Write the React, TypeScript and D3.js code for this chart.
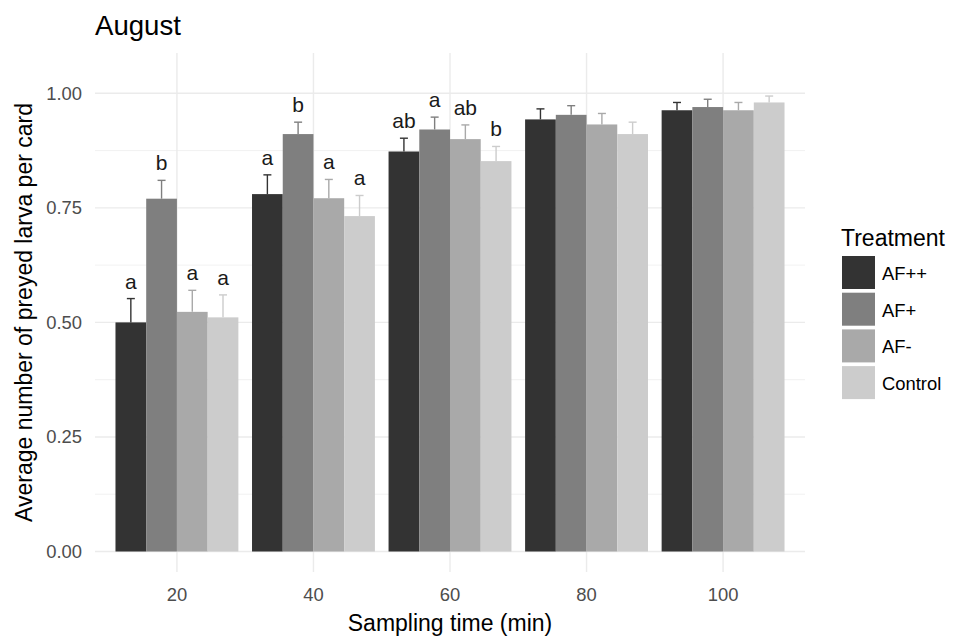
import React from "react";
import * as d3 from "d3";

const times = ["20", "40", "60", "80", "100"];
const treatments = ["AF++", "AF+", "AF-", "Control"];
const colors = ["#333333", "#7f7f7f", "#a9a9a9", "#cccccc"];
// means per treatment across sampling times
const meanAFpp = [0.5, 0.78, 0.873, 0.943, 0.963];
const meanAFp = [0.77, 0.911, 0.921, 0.953, 0.97];
const meanAFm = [0.523, 0.771, 0.9, 0.932, 0.963];
const meanCtrl = [0.511, 0.732, 0.852, 0.911, 0.98];
// mean + SE (upper whisker)
const upperAFpp = [0.552, 0.822, 0.902, 0.966, 0.98];
const upperAFp = [0.81, 0.937, 0.948, 0.973, 0.987];
const upperAFm = [0.57, 0.812, 0.931, 0.956, 0.98];
const upperCtrl = [0.56, 0.777, 0.884, 0.937, 0.994];
const lettersAFpp = ["a", "a", "ab", "", ""];
const lettersAFp = ["b", "b", "a", "", ""];
const lettersAFm = ["a", "a", "ab", "", ""];
const lettersCtrl = ["a", "a", "b", "", ""];
const yTicks = [0, 0.25, 0.5, 0.75, 1.0];
const yMinor = [0.125, 0.375, 0.625, 0.875];

const means = [meanAFpp, meanAFp, meanAFm, meanCtrl];
const uppers = [upperAFpp, upperAFp, upperAFm, upperCtrl];
const letters = [lettersAFpp, lettersAFp, lettersAFm, lettersCtrl];

export default function App() {
  const W = 953, H = 637;
  const left = 95, right = 805, top = 53, bottom = 572;
  const font = "Liberation Sans, Arial, sans-serif";
  const x = d3.scaleLinear().domain([0.4, 5.6]).range([left, right]);
  const step = x(2) - x(1);
  const y = d3.scaleLinear().domain([0, 1]).range([551.5, 93.3]);
  const groupW = step * 0.9;
  const barW = groupW / 4;

  return (
    <svg width={W} height={H} style={{ position: "absolute", left: 0, top: 0 }} fontFamily={font}>
      <rect width={W} height={H} fill="#fff" />
      {yMinor.map((v) => (
        <line key={"ym" + v} x1={left} x2={right} y1={y(v)} y2={y(v)} stroke="#ebebeb" strokeWidth={0.7} />
      ))}
      {yTicks.map((v) => (
        <line key={"y" + v} x1={left} x2={right} y1={y(v)} y2={y(v)} stroke="#ebebeb" strokeWidth={1.4} />
      ))}
      {times.map((t, i) => (
        <line key={"x" + t} x1={x(i + 1)} x2={x(i + 1)} y1={top} y2={bottom} stroke="#ebebeb" strokeWidth={1.4} />
      ))}
      {times.map((t, i) =>
        treatments.map((tr, j) => {
          const bx = x(i + 1) - groupW / 2 + j * barW;
          const cx = bx + barW / 2;
          const m = means[j][i];
          const u = uppers[j][i];
          return (
            <g key={t + tr}>
              <rect x={bx} y={y(m)} width={barW} height={y(0) - y(m)} fill={colors[j]} />
              <line x1={cx} x2={cx} y1={y(m)} y2={y(u)} stroke={colors[j]} strokeWidth={1.4} />
              <line x1={cx - 4} x2={cx + 4} y1={y(u)} y2={y(u)} stroke={colors[j]} strokeWidth={1.4} />
              {letters[j][i] && (
                <text x={cx} y={y(u) - 10} textAnchor="middle" fontSize={21} fill="#1a1a1a">
                  {letters[j][i]}
                </text>
              )}
            </g>
          );
        })
      )}
      {yTicks.map((v) => (
        <text key={"yt" + v} x={82} y={y(v) + 6.5} textAnchor="end" fontSize={18.4} fill="#4d4d4d">
          {v.toFixed(2)}
        </text>
      ))}
      {times.map((t, i) => (
        <text key={"xt" + t} x={x(i + 1)} y={601} textAnchor="middle" fontSize={18.4} fill="#4d4d4d">
          {t}
        </text>
      ))}
      <text x={(left + right) / 2} y={631} textAnchor="middle" fontSize={23} fill="#000">
        Sampling time (min)
      </text>
      <text transform={`translate(32,${(top + bottom) / 2}) rotate(-90)`} textAnchor="middle" fontSize={23} fill="#000">
        Average number of preyed larva per card
      </text>
      <text x={95} y={35} fontSize={27.6} fill="#000">August</text>
      <text x={841} y={246} fontSize={23} fill="#000">Treatment</text>
      {treatments.map((tr, j) => (
        <g key={"lg" + tr}>
          <rect x={842} y={256 + j * 36.7} width={33} height={33} fill={colors[j]} />
          <text x={882} y={256 + j * 36.7 + 24} fontSize={18.4} fill="#000">{tr}</text>
        </g>
      ))}
    </svg>
  );
}
